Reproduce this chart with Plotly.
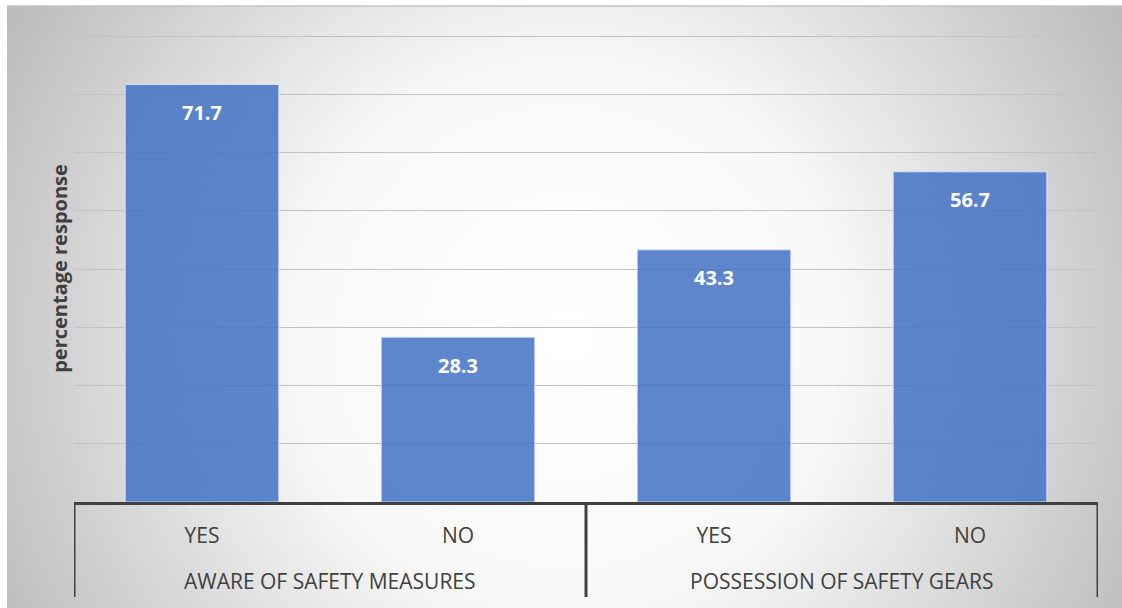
import base64
import plotly.graph_objects as go

groups = ["AWARE OF SAFETY MEASURES", "AWARE OF SAFETY MEASURES",
          "POSSESSION OF SAFETY GEARS", "POSSESSION OF SAFETY GEARS"]
answers = ["YES", "NO", "YES", "NO"]
values = [71.7, 28.3, 43.3, 56.7]
y_ticks = [0, 10, 20, 30, 40, 50, 60, 70, 80]

W, H = 1122, 608
L, R, T, B = 74, 24, 35, 106
pw, ph = W - L - R, H - T - B

TEXT = "#404040"
FONT = "Open Sans"

svg = (
    '<svg xmlns="http://www.w3.org/2000/svg" width="1115" height="602" viewBox="0 0 1115 602">'
    '<defs><radialGradient id="g" gradientUnits="userSpaceOnUse" cx="560" cy="330" r="650">'
    '<stop offset="0" stop-color="#ffffff"/><stop offset="0.42" stop-color="#f8f8f8"/>'
    '<stop offset="1" stop-color="#bababa"/></radialGradient></defs>'
    '<rect width="1115" height="602" fill="url(#g)"/></svg>'
)
bg_src = "data:image/svg+xml;base64," + base64.b64encode(svg.encode()).decode()

# unique category keys (group + answer), shown with the answer as tick text
keys = [f"{g} | {a}" for g, a in zip(groups, answers)]

# group spans on the category axis (index units)
group_names = []
for g in groups:
    if g not in group_names:
        group_names.append(g)
spans = []
for g in group_names:
    idx = [i for i, gg in enumerate(groups) if gg == g]
    spans.append((g, min(idx) - 0.5, max(idx) + 0.5))

fig = go.Figure()
fig.add_trace(go.Bar(
    x=keys, y=values,
    marker=dict(color="rgba(68,114,196,0.86)",
                line=dict(color="rgba(225,235,255,0.8)", width=1)),
    hoverinfo="skip",
))
fig.add_trace(go.Scatter(
    x=keys, y=values, mode="markers+text",
    text=[f"{v:.1f}" for v in values],
    textposition="bottom center",
    textfont=dict(family=FONT, size=20, color="white", weight="bold"),
    marker=dict(size=31, opacity=0),
    hoverinfo="skip", showlegend=False,
))

div_bottom = -(597 - (H - B)) / ph
shapes = [dict(type="line", xref="paper", yref="paper",
               x0=(7 - L) / pw, x1=(W - L) / pw,
               y0=(H - B - 6) / ph, y1=(H - B - 6) / ph,
               line=dict(color="#c4c4c4", width=1.5))]
bounds = sorted({s[1] for s in spans} | {s[2] for s in spans})
for bx in bounds:
    shapes.append(dict(type="line", xref="x", yref="paper",
                       x0=bx, x1=bx, y0=0, y1=div_bottom,
                       line=dict(color=TEXT, width=3)))

annotations = []
for g, a0, a1 in spans:
    annotations.append(dict(
        text=g, xref="x", yref="paper", x=(a0 + a1) / 2, y=0,
        yshift=-79, yanchor="middle", xanchor="center", showarrow=False,
        font=dict(family=FONT, size=21, color=TEXT),
    ))

fig.update_layout(
    width=W, height=H,
    margin=dict(l=L, r=R, t=T, b=B),
    paper_bgcolor="white",
    plot_bgcolor="rgba(0,0,0,0)",
    showlegend=False,
    bargap=0.4,
    font=dict(family=FONT, color=TEXT),
    images=[dict(
        source=bg_src, xref="paper", yref="paper",
        x=(7 - L) / pw, y=(H - B - 6) / ph,
        sizex=1115 / pw, sizey=602 / ph,
        xanchor="left", yanchor="top", sizing="stretch", layer="below",
    )],
    shapes=shapes,
    annotations=annotations,
)
fig.update_xaxes(
    type="category",
    tickmode="array", tickvals=keys, ticktext=answers,
    showline=True, linecolor=TEXT, linewidth=3,
    ticks="outside", ticklen=13, tickcolor="rgba(0,0,0,0)",
    tickfont=dict(family=FONT, size=21, color=TEXT),
    showgrid=False, automargin=False,
    range=[-0.5, len(keys) - 0.5],
)
fig.update_yaxes(
    range=[0, 80.2], tickvals=y_ticks, showticklabels=False,
    showgrid=True, gridcolor="#c2c2c2", gridwidth=1.2,
    zeroline=False, showline=False,
    title=dict(text="<b>percentage response</b>", standoff=0,
               font=dict(family=FONT, size=20, color=TEXT)),
    automargin=False,
)

fig.write_html("out.html")
